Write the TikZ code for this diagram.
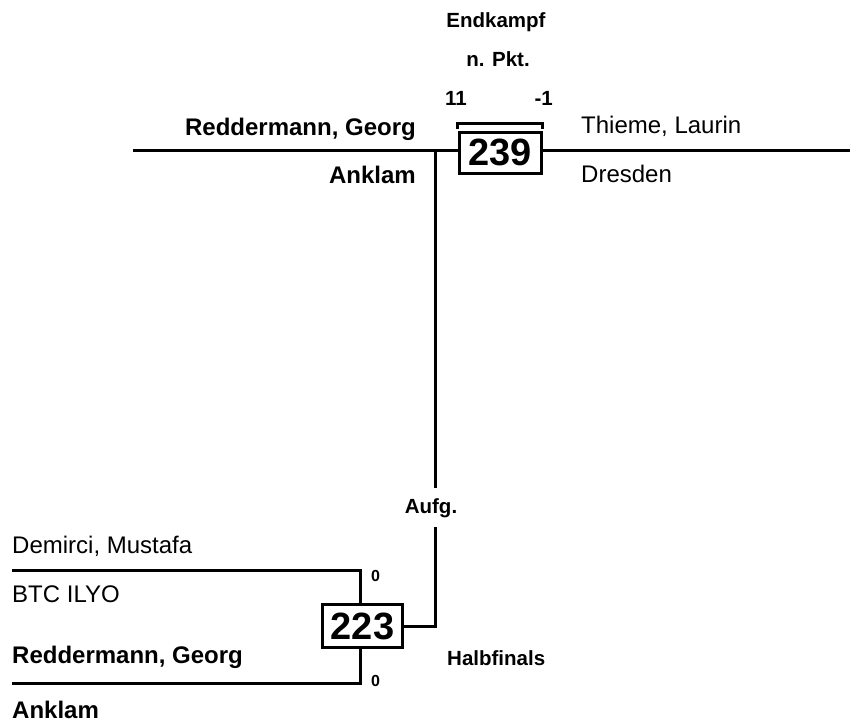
\documentclass[tikz,border=0pt]{standalone}
\usepackage{fontspec}
\setmainfont{Liberation Sans}
\begin{document}
\begin{tikzpicture}[x=1pt,y=-1pt,
  bline/.style={line width=3pt},
  matchbox/.style={draw,line width=3pt,inner sep=0pt,minimum width=82pt,minimum height=41pt,
    font=\fontsize{38}{40}\selectfont\bfseries},
  pname/.style={inner sep=0pt,font=\fontsize{24}{28}\selectfont},
  bpname/.style={inner sep=0pt,font=\fontsize{24}{28}\selectfont\bfseries},
  lbl/.style={inner sep=0pt,font=\fontsize{20.5}{24}\selectfont\bfseries},
  score/.style={inner sep=0pt,font=\fontsize{16}{18}\selectfont\bfseries}]
\useasboundingbox (0,0) rectangle (850,723);
% final
\node[matchbox] (b239) at (500,152.5) {239};
\coordinate (tl) at (133,150.5);
\coordinate (tr) at (850,150.5);
\coordinate (j) at (435,150.5);
\draw[bline] (tl) -- (b239.west |- tl);
\draw[bline] (b239.east |- tr) -- (tr);
\draw[bline] ([yshift=1.5pt]b239.north west) -- ++(0,-6) -| ([yshift=1.5pt]b239.north east);
\node[lbl,anchor=base] (ek) at (496,27) {Endkampf};
\node[lbl,anchor=base] (np) at (498,66) {n. Pkt.};
\node[lbl,anchor=base west] (s11) at (445,105) {11};
\node[lbl,anchor=base east] (sm1) at (553,105) {-1};
\node[bpname,anchor=base east] (n1) at (416,135) {Reddermann, Georg};
\node[bpname,anchor=base east] (c1) at (416,183) {Anklam};
\node[pname,anchor=base west] (n2) at (581,133) {Thieme, Laurin};
\node[pname,anchor=base west] (c2) at (581,182) {Dresden};
% semifinal
\node[matchbox,minimum width=80pt,minimum height=43pt] (b223) at (362.5,626) {223};
\coordinate (v1) at (435,488);
\coordinate (v2) at (435,527);
\coordinate (k1) at (360,570);
\coordinate (k2) at (360,683);
\coordinate (l1) at (12,570);
\coordinate (l2) at (12,683);
\draw[bline] (j) -- (v1);
\draw[bline] (v2) -- (v2 |- b223.east) -- (b223.east);
\node[lbl,anchor=base] (aufg) at (431,513) {Aufg.};
\draw[bline] (l1) -- (k1) -- (k1 |- b223.north);
\draw[bline] (l2) -- (k2) -- (k2 |- b223.south);
\node[score,anchor=base west] (z1) at (371,581) {0};
\node[score,anchor=base west] (z2) at (371,686) {0};
\node[pname,anchor=base west] (n3) at (12,553) {Demirci, Mustafa};
\node[pname,anchor=base west] (c3) at (12,602) {BTC ILYO};
\node[bpname,anchor=base west] (n4) at (12,663) {Reddermann, Georg};
\node[bpname,anchor=base west] (c4) at (12,718) {Anklam};
\node[lbl,anchor=base west] (hf) at (447,665) {Halbfinals};
\end{tikzpicture}
\end{document}
